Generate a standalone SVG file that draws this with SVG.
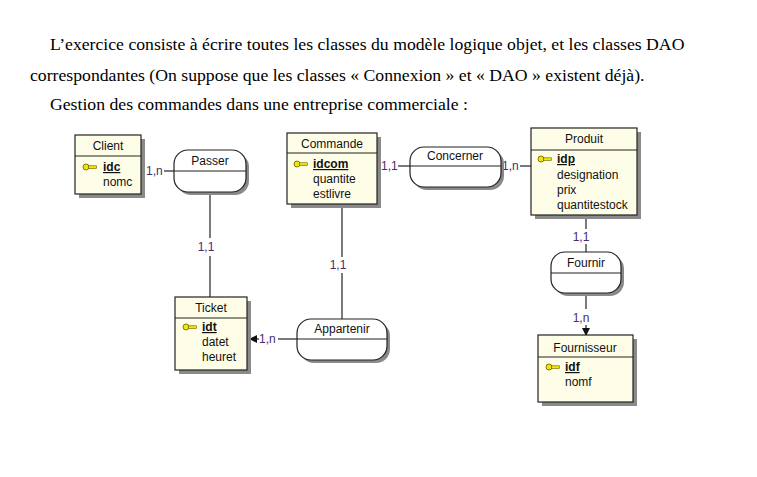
<svg xmlns="http://www.w3.org/2000/svg" width="757" height="477" viewBox="0 0 757 477">
<defs>
<style>
.para{font-family:"Liberation Serif","Times New Roman",serif;font-size:17.7px;fill:#000}
.ent{fill:#fefee8;stroke:#222;stroke-width:1.2}
.shd{fill:#8a8a8a}
.div{stroke:#222;stroke-width:1}
.t{font-family:"Liberation Sans",Arial,sans-serif;font-size:12px;fill:#111}
.h{text-anchor:middle}
.k{font-weight:bold;text-decoration:underline}
.rel{fill:#fff;stroke:#222;stroke-width:1.2}
.ln{stroke:#222;stroke-width:1.2;fill:none}
.c{font-family:"Liberation Sans",Arial,sans-serif;font-size:12px;fill:#4b2a6e}
</style>
<g id="key">
<circle cx="0" cy="0" r="3" fill="#f2e600" stroke="#6b5d00" stroke-width="0.8"/>
<rect x="2.5" y="-1.2" width="8" height="2.6" fill="#f2e600" stroke="#6b5d00" stroke-width="0.6"/>
</g>
<marker id="arr" markerWidth="8" markerHeight="8" refX="7" refY="4" orient="auto" markerUnits="userSpaceOnUse">
<path d="M0,0 L8,4 L0,8 Z" fill="#111"/>
</marker>
</defs>
<rect width="757" height="477" fill="#fff"/>

<text class="para" x="50" y="50">L’exercice consiste à écrire toutes les classes du modèle logique objet, et les classes DAO</text>
<text class="para" x="30" y="81">correspondantes (On suppose que les classes « Connexion » et « DAO » existent déjà).</text>
<text class="para" x="50" y="110">Gestion des commandes dans une entreprise commerciale :</text>

<g id="connectors">
<line class="ln" x1="141" y1="171" x2="145" y2="171"/>
<text class="c" x="146" y="175">1,n</text>
<line class="ln" x1="164" y1="171" x2="174" y2="171"/>

<line class="ln" x1="377" y1="166" x2="380" y2="166"/>
<text class="c" x="381" y="170">1,1</text>
<line class="ln" x1="398" y1="166" x2="410" y2="166"/>

<text class="c" x="502" y="170">1,n</text>
<line class="ln" x1="520" y1="166" x2="531" y2="166"/>

<line class="ln" x1="210" y1="192" x2="210" y2="238"/>
<text class="c" x="206" y="251" text-anchor="middle">1,1</text>
<line class="ln" x1="210" y1="256" x2="210" y2="297"/>

<line class="ln" x1="342" y1="204" x2="342" y2="257"/>
<text class="c" x="338" y="269" text-anchor="middle">1,1</text>
<line class="ln" x1="342" y1="273" x2="342" y2="319"/>

<line class="ln" x1="586" y1="215" x2="586" y2="229"/>
<text class="c" x="581" y="241" text-anchor="middle">1,1</text>
<line class="ln" x1="586" y1="244" x2="586" y2="252"/>

<line class="ln" x1="586" y1="293" x2="586" y2="309"/>
<text class="c" x="581" y="322" text-anchor="middle">1,n</text>
<line class="ln" x1="586" y1="325" x2="586" y2="335" marker-end="url(#arr)"/>

<line class="ln" x1="259" y1="339" x2="250" y2="339" marker-end="url(#arr)"/>
<text class="c" x="259" y="343">1,n</text>
<line class="ln" x1="278" y1="339" x2="297" y2="339"/>
</g>

<g id="Client">
<rect class="shd" x="79" y="139" width="66" height="59"/>
<rect class="ent" x="75" y="135" width="66" height="59"/>
<line class="div" x1="75" y1="156" x2="141" y2="156"/>
<text class="t h" x="108" y="150">Client</text>
<use href="#key" x="86" y="167"/>
<text class="t k" x="103" y="171">idc</text>
<text class="t" x="103" y="186">nomc</text>
</g>

<g id="Commande">
<rect class="shd" x="291" y="137" width="90" height="71"/>
<rect class="ent" x="287" y="133" width="90" height="71"/>
<line class="div" x1="287" y1="153" x2="377" y2="153"/>
<text class="t h" x="332" y="148">Commande</text>
<use href="#key" x="297" y="164"/>
<text class="t k" x="313" y="168">idcom</text>
<text class="t" x="313" y="183">quantite</text>
<text class="t" x="313" y="198">estlivre</text>
</g>

<g id="Produit">
<rect class="shd" x="535" y="132" width="106" height="87"/>
<rect class="ent" x="531" y="128" width="106" height="87"/>
<line class="div" x1="531" y1="150" x2="637" y2="150"/>
<text class="t h" x="584" y="143">Produit</text>
<use href="#key" x="541" y="159"/>
<text class="t k" x="557" y="163">idp</text>
<text class="t" x="557" y="179">designation</text>
<text class="t" x="557" y="194">prix</text>
<text class="t" x="557" y="209">quantitestock</text>
</g>

<g id="Ticket">
<rect class="shd" x="179" y="301" width="72" height="73"/>
<rect class="ent" x="175" y="297" width="72" height="73"/>
<line class="div" x1="175" y1="318" x2="247" y2="318"/>
<text class="t h" x="211" y="312">Ticket</text>
<use href="#key" x="186" y="327"/>
<text class="t k" x="202" y="331">idt</text>
<text class="t" x="202" y="346">datet</text>
<text class="t" x="202" y="361">heuret</text>
</g>

<g id="Fournisseur">
<rect class="shd" x="542" y="339" width="95" height="67"/>
<rect class="ent" x="538" y="335" width="95" height="67"/>
<line class="div" x1="538" y1="357" x2="633" y2="357"/>
<text class="t h" x="585" y="352">Fournisseur</text>
<use href="#key" x="549" y="367"/>
<text class="t k" x="565" y="371">idf</text>
<text class="t" x="565" y="386">nomf</text>
</g>

<g id="Passer">
<rect class="shd" x="177" y="153" width="72" height="42" rx="14"/>
<rect class="rel" x="174" y="150" width="72" height="42" rx="14"/>
<line class="ln" x1="174" y1="171" x2="246" y2="171"/>
<text class="t h" x="210" y="165">Passer</text>
</g>

<g id="Concerner">
<rect class="shd" x="413" y="150" width="91" height="40" rx="14"/>
<rect class="rel" x="410" y="147" width="91" height="40" rx="14"/>
<line class="ln" x1="410" y1="166" x2="501" y2="166"/>
<text class="t h" x="455" y="160">Concerner</text>
</g>

<g id="Fournir">
<rect class="shd" x="554" y="255" width="70" height="41" rx="14"/>
<rect class="rel" x="551" y="252" width="70" height="41" rx="14"/>
<line class="ln" x1="551" y1="273" x2="621" y2="273"/>
<text class="t h" x="586" y="267">Fournir</text>
</g>

<g id="Appartenir">
<rect class="shd" x="300" y="322" width="90" height="41" rx="14"/>
<rect class="rel" x="297" y="319" width="90" height="41" rx="14"/>
<line class="ln" x1="297" y1="339" x2="387" y2="339"/>
<text class="t h" x="342" y="333">Appartenir</text>
</g>
</svg>
